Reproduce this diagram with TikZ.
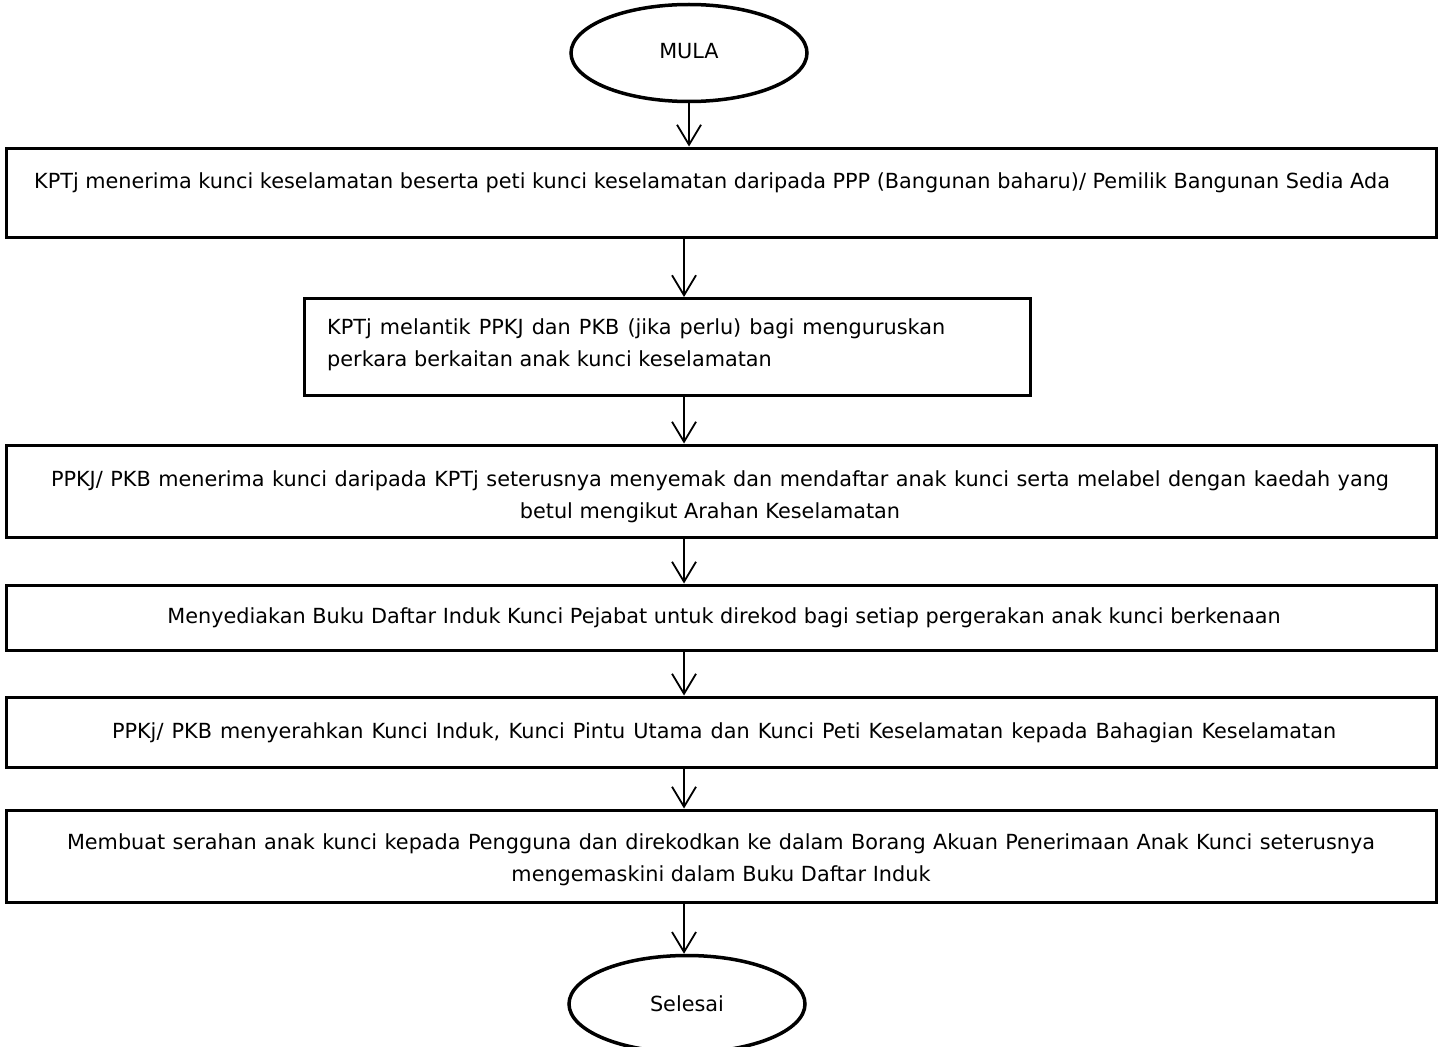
\documentclass[tikz,border=0pt]{standalone}
\usepackage{fontspec}
\setmainfont{DejaVu Sans}
\usetikzlibrary{arrows.meta,shapes.geometric}
\begin{document}
\begin{tikzpicture}[x=1pt,y=-1pt,
  box/.style={draw,line width=3pt,inner sep=0pt},
  term/.style={draw,ellipse,line width=3.5pt,minimum width=236pt,minimum height=97pt,inner sep=0pt},
  txt/.style={inner sep=0pt,anchor=base,font=\fontsize{20.8}{32}\selectfont},
  conn/.style={line width=1.8pt,-{Straight Barb[length=20pt,width=24pt,line width=1.8pt]}}]
\useasboundingbox (0,0) rectangle (1439,1046);
\begin{scope}
\clip (0,0) rectangle (1439,1046);
% terminals
\node[term] (mula) at (689,53) {};
\node[txt] (mulat) at (689,59) {MULA};
\node[term] (selesai) at (687,1004) {};
\node[txt] (selesait) at (687,1011) {Selesai};
\end{scope}
% boxes
\node[box,minimum width=1430pt,minimum height=89pt] (b1) at (721,192.5) {};
\node[txt] (t1) at (712,188) {KPTj menerima kunci keselamatan beserta peti kunci keselamatan daripada PPP (Bangunan baharu)/ Pemilik Bangunan Sedia Ada};
\node[box,minimum width=726pt,minimum height=97pt] (b2) at (667,347) {};
\node[txt,anchor=base west] (t2a) at (327,334) {\makebox[618pt][s]{KPTj melantik PPKJ dan PKB (jika perlu) bagi menguruskan}};
\node[txt,anchor=base west] (t2b) at (327,366) {perkara berkaitan anak kunci keselamatan};
\node[box,minimum width=1430pt,minimum height=92pt] (b3) at (721,491) {};
\node[txt] (t3a) at (720,486) {\makebox[1338pt][s]{PPKJ/ PKB menerima kunci daripada KPTj seterusnya menyemak dan mendaftar anak kunci serta melabel dengan kaedah yang}};
\node[txt] (t3b) at (710,518) {betul mengikut Arahan Keselamatan};
\node[box,minimum width=1430pt,minimum height=65pt] (b4) at (721,617.5) {};
\node[txt] (t4) at (724,623) {Menyediakan Buku Daftar Induk Kunci Pejabat untuk direkod bagi setiap pergerakan anak kunci berkenaan};
\node[box,minimum width=1430pt,minimum height=70pt] (b5) at (721,732) {};
\node[txt] (t5) at (724,738) {\makebox[1224pt][s]{PPKj/ PKB menyerahkan Kunci Induk, Kunci Pintu Utama dan Kunci Peti Keselamatan kepada Bahagian Keselamatan}};
\node[box,minimum width=1430pt,minimum height=92pt] (b6) at (721,856) {};
\node[txt] (t6a) at (721,849) {\makebox[1308pt][s]{Membuat serahan anak kunci kepada Pengguna dan direkodkan ke dalam Borang Akuan Penerimaan Anak Kunci seterusnya}};
\node[txt] (t6b) at (721,881) {mengemaskini dalam Buku Daftar Induk};
% connectors
\draw[conn] (mula.south) -- (mula.south |- b1.north);
\draw[conn] (b1.south -| 684,0) -- (b2.north -| 684,0);
\draw[conn] (b2.south -| 684,0) -- (b3.north -| 684,0);
\draw[conn] (b3.south -| 684,0) -- (b4.north -| 684,0);
\draw[conn] (b4.south -| 684,0) -- (b5.north -| 684,0);
\draw[conn] (b5.south -| 684,0) -- (b6.north -| 684,0);
\draw[conn] (b6.south -| 684,0) -- (selesai.north -| 684,0);
\end{tikzpicture}
\end{document}
